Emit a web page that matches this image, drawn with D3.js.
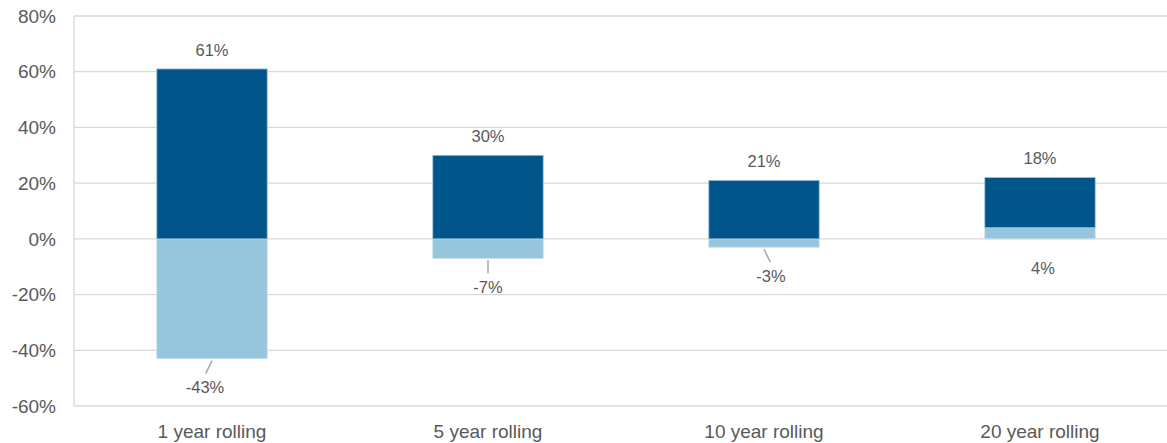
<!DOCTYPE html>
<html>
<head>
<meta charset="utf-8">
<script src="https://cdn.jsdelivr.net/npm/d3@7"></script>
<style>
  body { margin: 0; background: #fff; }
  text { font-family: "Liberation Sans", Arial, sans-serif; fill: #595959; }
</style>
</head>
<body>
<svg id="chart" width="1167" height="443"></svg>
<script>
const categories = ["1 year rolling", "5 year rolling", "10 year rolling", "20 year rolling"];
const lowValues = [-43, -7, -3, 4];   // light series (min)
const rangeValues = [61, 30, 21, 18]; // dark series, stacked on top when low is positive
const yTicks = [-60, -40, -20, 0, 20, 40, 60, 80];

// label nudges for the light series (px), leader line drawn when label is pushed away
const lowLabelDx = [-7, 0, 7, 3];
const lowLeader = [true, true, true, false];

const svg = d3.select("svg#chart");
const width = +svg.attr("width");
const height = +svg.attr("height");
const margin = { top: 16, right: 0, bottom: 37, left: 74 };

// plot area runs a little past the right edge of the picture
const x = d3.scaleBand()
  .domain(categories)
  .range([margin.left, margin.left + 1104])
  .paddingInner(0.6)
  .paddingOuter(0.3);

const y = d3.scaleLinear()
  .domain([-60, 80])
  .range([height - margin.bottom, margin.top]);

const dark = "#00558b";
const light = "#97c5dd";

// gridlines
svg.append("g")
  .selectAll("line")
  .data(yTicks)
  .join("line")
  .attr("x1", margin.left)
  .attr("x2", width)
  .attr("y1", d => y(d))
  .attr("y2", d => y(d))
  .attr("stroke", "#d9d9d9")
  .attr("stroke-width", 1.3);

// left axis line
svg.append("line")
  .attr("x1", margin.left)
  .attr("x2", margin.left)
  .attr("y1", y(80))
  .attr("y2", y(-60))
  .attr("stroke", "#d9d9d9")
  .attr("stroke-width", 1.3);

// y tick labels
svg.append("g")
  .selectAll("text")
  .data(yTicks)
  .join("text")
  .attr("x", margin.left - 18)
  .attr("y", d => y(d))
  .attr("dy", "0.35em")
  .attr("text-anchor", "end")
  .style("font-size", "19px")
  .text(d => d + "%");

// bars
const rows = categories.map((c, i) => {
  const lo = lowValues[i];
  const base = lo > 0 ? lo : 0;
  return { c, i, lo, hi: rangeValues[i], base, top: base + rangeValues[i] };
});

const bw = x.bandwidth();

svg.append("g")
  .selectAll("rect.low")
  .data(rows)
  .join("rect")
  .attr("class", "low")
  .attr("x", d => x(d.c))
  .attr("width", bw)
  .attr("y", d => y(Math.max(0, d.lo)))
  .attr("height", d => Math.abs(y(d.lo) - y(0)))
  .attr("fill", light)
  .attr("stroke", "#c6e0ee")
  .attr("stroke-width", 0.8);

svg.append("g")
  .selectAll("rect.high")
  .data(rows)
  .join("rect")
  .attr("class", "high")
  .attr("x", d => x(d.c))
  .attr("width", bw)
  .attr("y", d => y(d.top))
  .attr("height", d => y(d.base) - y(d.top))
  .attr("fill", dark)
  .attr("stroke", "#9fc3da")
  .attr("stroke-width", 0.8);

// dark labels
svg.append("g")
  .selectAll("text")
  .data(rows)
  .join("text")
  .attr("x", d => x(d.c) + bw / 2)
  .attr("y", d => y(d.top) - 19)
  .attr("dy", "0.35em")
  .attr("text-anchor", "middle")
  .style("font-size", "16.5px")
  .text(d => d.hi + "%");

// light labels + leader lines
const lowLabelY = d => (d.lo < 0 ? y(d.lo) : y(0)) + 29;

svg.append("g")
  .selectAll("line")
  .data(rows.filter(d => lowLeader[d.i]))
  .join("line")
  .attr("x1", d => x(d.c) + bw / 2)
  .attr("y1", d => y(d.lo) + 2)
  .attr("x2", d => x(d.c) + bw / 2 + lowLabelDx[d.i] * 0.9)
  .attr("y2", d => y(d.lo) + 15)
  .attr("stroke", "#a6a6a6")
  .attr("stroke-width", 1.5);

svg.append("g")
  .selectAll("text")
  .data(rows)
  .join("text")
  .attr("x", d => x(d.c) + bw / 2 + lowLabelDx[d.i])
  .attr("y", d => lowLabelY(d))
  .attr("dy", "0.35em")
  .attr("text-anchor", "middle")
  .style("font-size", "16.5px")
  .text(d => d.lo + "%");

// category labels
svg.append("g")
  .selectAll("text")
  .data(categories)
  .join("text")
  .attr("x", d => x(d) + bw / 2)
  .attr("y", y(-60) + 25)
  .attr("dy", "0.35em")
  .attr("text-anchor", "middle")
  .style("font-size", "19px")
  .text(d => d);
</script>
</body>
</html>
